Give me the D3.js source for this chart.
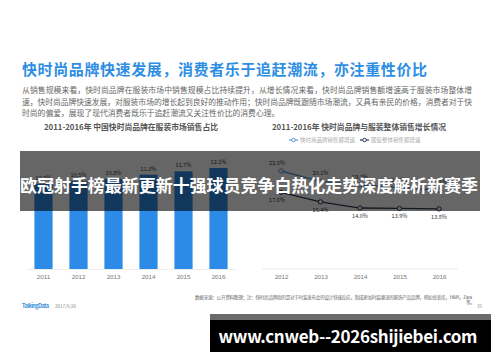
<!DOCTYPE html>
<html>
<head>
<meta charset="utf-8">
<script src="https://cdn.jsdelivr.net/npm/d3@7"></script>
<style>
  body { margin: 0; background: #fff; }
  svg { display: block; font-family: "Noto Sans CJK SC", "Noto Sans", sans-serif; }
</style>
</head>
<body>
<div id="chart"></div>
<script>
// data
const barYears = ["2011", "2012", "2013", "2014", "2015", "2016"];
const shareValues = [10.2, 10.5, 10.8, 11.3, 11.7, 12.1];

const lineYears = ["2012", "2013", "2014", "2015", "2016"];
const fastFashionGrowth = [22.5, 20.1, 19.3, 18.7, 18.1];
const apparelGrowth = [17.6, 15.4, 14.0, 13.9, 13.8];
const seriesNames = ["快时尚品牌销售额增速", "服装整体销售额增速"];

const title = "快时尚品牌快速发展，消费者乐于追赶潮流，亦注重性价比";
const paragraph = [
  "从销售规模来看，快时尚品牌在服装市场中销售规模占比持续提升，从增长情况来看，快时尚品牌销售额增速高于服装市场整体增",
  "速，快时尚品牌快速发展，对服装市场的增长起到良好的推动作用；快时尚品牌既跟随市场潮流，又具有亲民的价格，消费者对于快",
  "时尚的偏爱，展现了现代消费者既乐于追赶潮流又关注性价比的消费心理。"
];
const leftTitle = "2011-2016年 中国快时尚品牌在服装市场销售占比";
const rightTitle = "2011-2016年 快时尚品牌与服装整体销售增长情况";
const sourceNote = "数据来源：公开资料整理；注：快时尚品牌指的是对于时装发布会的设计快速反应，制成更加时装潮流的服饰产品品牌，例如优衣库，H&M，Zara";
const overlayText = "欧冠射手榜最新更新十强球员竞争白热化走势深度解析新赛季";
const watermark = "www.cnweb--2026shijiebei.com";

const W = 500, H = 362;
const svg = d3.select("#chart").append("svg").attr("width", W).attr("height", H);
svg.append("rect").attr("width", W).attr("height", H).attr("fill", "#fff");

// header
svg.append("text").attr("x", 22).attr("y", 75)
  .attr("font-size", 15).attr("font-weight", "bold").attr("fill", "#2d8ee3")
  .attr("textLength", 405).text(title);

paragraph.forEach((line, i) => {
  const t = svg.append("text").attr("x", 22).attr("y", 93 + i * 11.5)
    .attr("font-size", 7.8).attr("fill", "#666").text(line);
  if (i < 2) t.attr("textLength", 450);
});

svg.append("text").attr("x", 131).attr("y", 130).attr("text-anchor", "middle")
  .attr("font-size", 7.8).attr("font-weight", "bold").attr("fill", "#555").text(leftTitle);
svg.append("text").attr("x", 359).attr("y", 130).attr("text-anchor", "middle")
  .attr("font-size", 7.8).attr("font-weight", "bold").attr("fill", "#555").text(rightTitle);

// ---- left: bars
const xBar = d3.scaleBand().domain(barYears).range([26, 236])
  .paddingInner(0.48).paddingOuter(0.24);
const yBar = d3.scaleLinear().domain([0, 12.1]).range([269, 168]);

const barAxis = svg.append("g").attr("transform", "translate(0,269)")
  .call(d3.axisBottom(xBar).tickSize(0).tickPadding(6));
barAxis.select(".domain").attr("stroke", "#ececec");
barAxis.selectAll("text").attr("font-size", 6.2).attr("fill", "#777");

svg.append("g").selectAll("rect").data(shareValues).join("rect")
  .attr("x", (d, i) => xBar(barYears[i]))
  .attr("y", d => yBar(d))
  .attr("width", xBar.bandwidth())
  .attr("height", d => 269 - yBar(d))
  .attr("fill", "#2b8be6");

svg.append("g").selectAll("text").data(shareValues).join("text")
  .attr("x", (d, i) => xBar(barYears[i]) + xBar.bandwidth() / 2)
  .attr("y", d => yBar(d) - 4)
  .attr("text-anchor", "middle").attr("font-size", 5.5).attr("fill", "#333")
  .text(d => d.toFixed(1) + "%");

// ---- right: lines
const xLine = d3.scalePoint().domain(lineYears).range([281, 439]);
const yLine = d3.scaleLinear().domain([0, 22.5]).range([269, 171]);

svg.append("line").attr("x1", 262).attr("x2", 458).attr("y1", 269).attr("y2", 269)
  .attr("stroke", "#ececec");
const lineAxis = svg.append("g").attr("transform", "translate(0,269)")
  .call(d3.axisBottom(xLine).tickSize(0).tickPadding(6));
lineAxis.select(".domain").remove();
lineAxis.selectAll("text").attr("font-size", 6.2).attr("fill", "#777");

const series = [
  { name: seriesNames[0], values: fastFashionGrowth, color: "#5b9bd5", dy: -6 },
  { name: seriesNames[1], values: apparelGrowth, color: "#2f3f55", dy: 10 }
];
const line = d3.line().x((d, i) => xLine(lineYears[i])).y(d => yLine(d));

series.forEach(s => {
  svg.append("path").datum(s.values).attr("d", line)
    .attr("fill", "none").attr("stroke", s.color).attr("stroke-width", 1.3);
  svg.append("g").selectAll("circle").data(s.values).join("circle")
    .attr("cx", (d, i) => xLine(lineYears[i])).attr("cy", d => yLine(d))
    .attr("r", 2.2).attr("fill", "#fff").attr("stroke", s.color).attr("stroke-width", 1);
  svg.append("g").selectAll("text").data(s.values).join("text")
    .attr("x", (d, i) => xLine(lineYears[i]) + (i === 0 ? -4 : 0))
    .attr("y", d => yLine(d) + s.dy)
    .attr("text-anchor", "middle").attr("font-size", 5.5).attr("fill", "#333")
    .text(d => d.toFixed(1) + "%");
});

// legend
const legend = svg.append("g").attr("transform", "translate(289,140)");
series.forEach((s, i) => {
  const g = legend.append("g").attr("transform", `translate(${i * 71},0)`);
  g.append("line").attr("x1", 0).attr("x2", 9).attr("stroke", s.color).attr("stroke-width", 1.2);
  g.append("circle").attr("cx", 4.5).attr("r", 1.8).attr("fill", "#fff").attr("stroke", s.color);
  g.append("text").attr("x", 11).attr("y", 2).attr("font-size", 5.5).attr("fill", "#aaa").text(s.name);
});

// footer
svg.append("text").attr("x", 22).attr("y", 308).attr("font-size", 5.5)
  .attr("fill", "#3a8fd9").attr("font-weight", "bold").attr("textLength", 27).text("TalkingData");
svg.append("text").attr("x", 55).attr("y", 308).attr("font-size", 4.5)
  .attr("fill", "#888").text("2017/9/26");
svg.append("text").attr("x", 195).attr("y", 299).attr("font-size", 4.6)
  .attr("fill", "#666").attr("textLength", 277).text(sourceNote);
svg.append("text").attr("x", 466).attr("y", 304).attr("font-size", 4.6)
  .attr("fill", "#666").text("等。");
svg.append("text").attr("x", 477).attr("y", 308).attr("font-size", 4.5)
  .attr("fill", "#888").text("35");

// overlay band with headline
svg.append("rect").attr("x", 20).attr("y", 151).attr("width", 460).attr("height", 60)
  .attr("fill", "rgba(0,0,0,0.6)");
svg.append("text").attr("x", 249).attr("y", 192).attr("text-anchor", "middle")
  .attr("font-size", 17).attr("font-weight", "bold").attr("fill", "#fff")
  .attr("textLength", 458).text(overlayText);

// watermark box
svg.append("rect").attr("x", 210).attr("y", 314).attr("width", 281).attr("height", 6).attr("fill", "#6b6b6b");
svg.append("rect").attr("x", 210).attr("y", 320).attr("width", 281).attr("height", 32).attr("fill", "#000");
svg.append("text").attr("x", 348).attr("y", 343).attr("text-anchor", "middle")
  .attr("font-size", 17).attr("font-weight", "bold").attr("fill", "#fff")
  .attr("textLength", 259).text(watermark);
</script>
</body>
</html>
